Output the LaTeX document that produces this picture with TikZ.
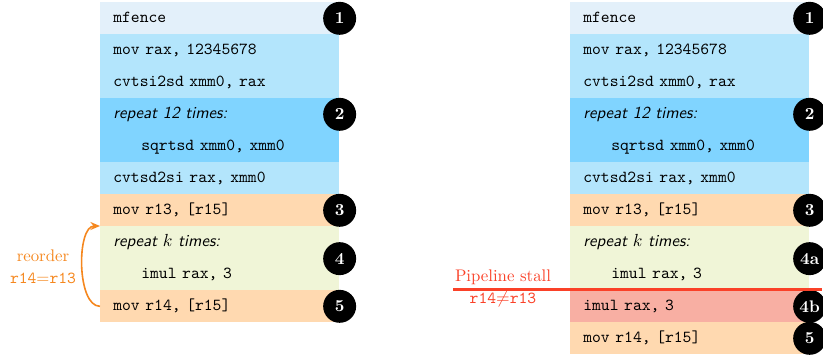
\documentclass[tikz,border=0pt]{standalone}
\usepackage{fontspec}
\setmonofont{Latin Modern Mono}
\usetikzlibrary{arrows.meta}
\definecolor{cfence}{RGB}{227,240,250}
\definecolor{cblue}{RGB}{179,229,252}
\definecolor{crep}{RGB}{128,212,255}
\definecolor{corange}{RGB}{255,217,176}
\definecolor{cgreen}{RGB}{240,245,215}
\definecolor{cred}{RGB}{248,175,163}
\definecolor{stallred}{RGB}{250,65,40}
\definecolor{arrorange}{RGB}{245,135,30}
\begin{document}
\begin{tikzpicture}[x=0.625pt,y=-0.625pt,
  every node/.append style={font=\fontsize{10.5pt}{12.6pt}\selectfont},
  rowbox/.style={anchor=north west, draw=none, minimum height=20pt,
    text width=133.125pt, inner xsep=8.125pt, inner ysep=0pt, align=left,
    text height=7.3pt, text depth=2.1pt,
    font=\fontsize{10.5pt}{12.6pt}\selectfont\ttfamily},
  num/.style={circle, fill=black, text=white,
    font=\fontsize{10.5pt}{12.6pt}\selectfont\bfseries,
    minimum size=20.6pt, inner sep=0pt},
  lbl/.style={align=center, inner sep=0pt}]
\useasboundingbox (0,0) rectangle (823,356);
% ---------- left column ----------
\node[rowbox, fill=cfence]  (L1)  at (100,2)   {mfence};
\node[rowbox, fill=cblue]   (L2)  at (100,34)  {mov rax, 12345678};
\node[rowbox, fill=cblue]   (L3)  at (100,66)  {cvtsi2sd xmm0, rax};
\node[rowbox, fill=crep]    (L4)  at (100,98)  {\textsf{\textit{repeat 12 times:}}};
\node[rowbox, fill=crep]    (L5)  at (100,130) {\hspace*{17.5pt}sqrtsd xmm0, xmm0};
\node[rowbox, fill=cblue]   (L6)  at (100,162) {cvtsd2si rax, xmm0};
\node[rowbox, fill=corange] (L7)  at (100,194) {mov r13, [r15]};
\node[rowbox, fill=cgreen]  (L8)  at (100,226) {\textsf{\textit{repeat $k$ times:}}};
\node[rowbox, fill=cgreen]  (L9)  at (100,258) {\hspace*{17.5pt}imul rax, 3};
\node[rowbox, fill=corange] (L10) at (100,290) {mov r14, [r15]};
\node[num] (a1) at (L1.east) {1};
\node[num] (a2) at (L4.east) {2};
\node[num] (a3) at (L7.east) {3};
\node[num] (a4) at (L8.south east) {4};
\node[num] (a5) at (L10.east) {5};
\draw[arrorange, line width=1pt, -{Stealth[length=6pt,width=5pt]}]
  (L10.west) to[out=180, in=180, looseness=0.75] (L8.north west);
\node[lbl, text=arrorange] (reo) at (43,267) {reorder\\[1pt]\texttt{r14}=\texttt{r13}};
% ---------- right column ----------
\node[rowbox, fill=cfence]  (R1)  at (570,2)   {mfence};
\node[rowbox, fill=cblue]   (R2)  at (570,34)  {mov rax, 12345678};
\node[rowbox, fill=cblue]   (R3)  at (570,66)  {cvtsi2sd xmm0, rax};
\node[rowbox, fill=crep]    (R4)  at (570,98)  {\textsf{\textit{repeat 12 times:}}};
\node[rowbox, fill=crep]    (R5)  at (570,130) {\hspace*{17.5pt}sqrtsd xmm0, xmm0};
\node[rowbox, fill=cblue]   (R6)  at (570,162) {cvtsd2si rax, xmm0};
\node[rowbox, fill=corange] (R7)  at (570,194) {mov r13, [r15]};
\node[rowbox, fill=cgreen]  (R8)  at (570,226) {\textsf{\textit{repeat $k$ times:}}};
\node[rowbox, fill=cgreen]  (R9)  at (570,258) {\hspace*{17.5pt}imul rax, 3};
\node[rowbox, fill=cred]    (R10) at (570,290) {imul rax, 3};
\node[rowbox, fill=corange] (R11) at (570,322) {mov r14, [r15]};
\node[num] (b1) at (R1.east) {1};
\node[num] (b2) at (R4.east) {2};
\node[num] (b3) at (R7.east) {3};
\node[num] (b4a) at (R8.south east) {4a};
\node[num] (b4b) at (R10.east) {4b};
\node[num] (b5) at (R11.east) {5};
\coordinate (stallL) at (453,289.5);
\coordinate (stallR) at (822,289.5);
\draw[stallred, line width=1.3pt] (stallL) -- (stallR);
\node[lbl, text=stallred] (stall) at (503,288) {Pipeline stall\\[1pt]\texttt{r14}$\neq$\texttt{r13}};
\end{tikzpicture}
\end{document}
